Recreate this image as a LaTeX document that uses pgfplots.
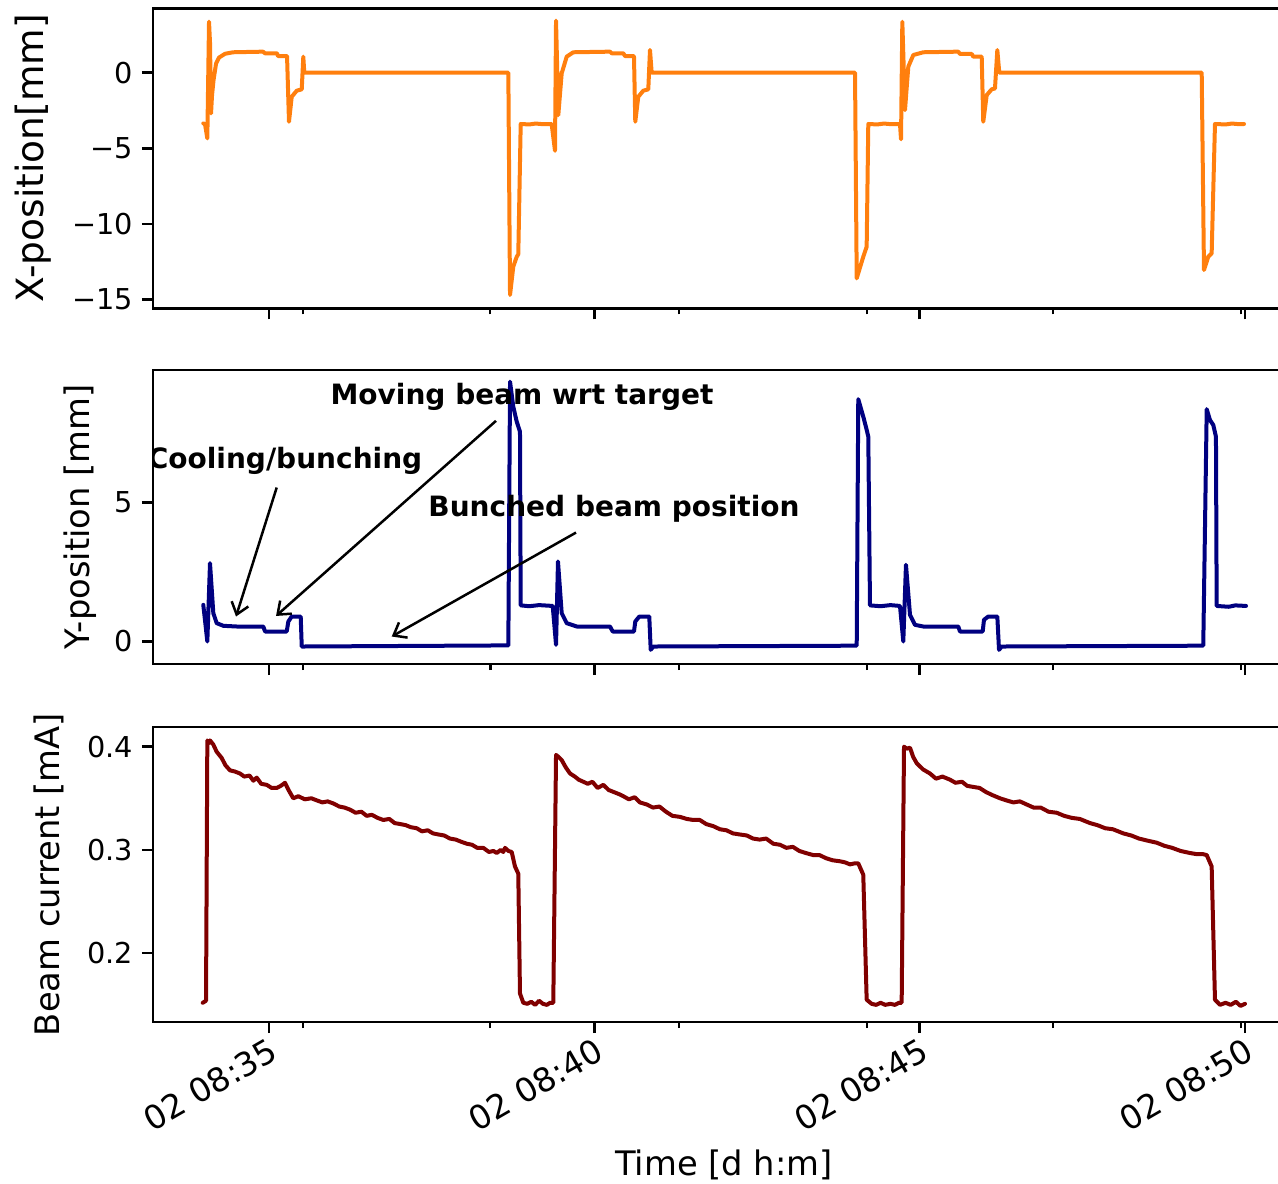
\documentclass[border=0pt]{standalone}
\usepackage{fontspec}
\setmainfont{DejaVu Sans}
\usepackage{pgfplots}
\pgfplotsset{compat=1.18}
\usetikzlibrary{arrows.meta}
\definecolor{mplorange}{RGB}{255,127,14}
\definecolor{mplnavy}{RGB}{0,0,128}
\definecolor{mplmaroon}{RGB}{128,0,0}

\pgfplotsset{
  panel/.style={
    scale only axis, width=456.8pt,
    xmin=33.217, xmax=50.768,
    axis line style={line width=1pt},
    tick style={line width=1pt, black},
    tick align=outside, xtick pos=left, ytick pos=left,
    major tick length=4.4pt, minor tick length=2.4pt,
    xtick={35,40,45,50},
    minor xtick={35.52,38.40,41.30,44.19,47.05,49.94},
    tick label style={font=\fontsize{11.5}{13}\selectfont},
    every axis plot/.append style={line width=1.6pt, line join=round, line cap=round},
  }
}

\begin{document}
\begin{tikzpicture}
% x position
\begin{axis}[panel, at={(61.2pt,-3.32pt)}, anchor=north west, height=120pt,
    ymin=-15.57, ymax=4.256,
    ytick={-15,-10,-5,0}, yticklabels={−15,−10,−5,0},
    xticklabels={},
    ylabel={X-position[mm]},
    every axis y label/.style={at={(axis description cs:-0.1051,0.5)}, rotate=90, anchor=center, font=\fontsize{15}{17}\selectfont},
]
\addplot[mplorange] coordinates {
(33.990,-3.35) (34.016,-3.40) (34.052,-4.34) (34.078,3.37) (34.093,2.0) (34.109,-2.69)
(34.124,-1.5) (34.147,-0.5) (34.186,0.6) (34.232,1.0) (34.324,1.25) (34.447,1.35)
(34.908,1.39) (34.939,1.28) (35.123,1.28) (35.138,1.10) (35.277,1.10) (35.307,-3.24)
(35.349,-1.59) (35.426,-1.19) (35.503,-1.10) (35.527,1.06) (35.542,0) (38.678,0)
(38.704,-14.69) (38.754,-12.82) (38.807,-12.16) (38.831,-12.0) (38.868,-3.39)
(39.00,-3.42) (39.10,-3.36) (39.20,-3.40) (39.344,-3.39)
(39.395,-5.16) (39.411,3.44) (39.446,-2.80) (39.498,-0.04) (39.575,1.06) (39.676,1.35)
(40.240,1.39) (40.267,1.28) (40.445,1.28) (40.471,1.10) (40.609,1.10) (40.629,-3.24)
(40.675,-1.59) (40.752,-1.19) (40.829,-1.10) (40.855,1.5) (40.881,0) (44.006,0)
(44.032,-13.59) (44.133,-12.16) (44.185,-11.5) (44.210,-3.39)
(44.35,-3.42) (44.45,-3.36) (44.55,-3.40) (44.697,-3.39)
(44.713,-4.40) (44.733,3.37) (44.774,-2.47) (44.825,0.40) (44.902,1.17) (45.055,1.35)
(45.593,1.39) (45.619,1.24) (45.799,1.24) (45.824,1.06) (45.953,1.06) (45.977,-3.24)
(46.030,-1.48) (46.106,-1.10) (46.157,-1.04) (46.193,1.5) (46.223,0) (49.334,0)
(49.369,-13.04) (49.435,-12.16) (49.487,-11.94) (49.538,-3.39)
(49.70,-3.42) (49.80,-3.36) (49.90,-3.40) (49.984,-3.39)
};
\end{axis}

% y position
\begin{axis}[panel, at={(61.2pt,-148pt)}, anchor=north west, height=117.6pt,
    ymin=-0.81, ymax=9.77,
    ytick={0,5}, yticklabels={0,5},
    xticklabels={},
    ylabel={Y-position [mm]},
    every axis y label/.style={at={(axis description cs:-0.0639,0.5)}, rotate=90, anchor=center, font=\fontsize{13.5}{16}\selectfont},
]
\addplot[mplnavy] coordinates {
(33.990,1.32) (34.052,0.0) (34.093,2.82) (34.144,1.02) (34.196,0.66) (34.298,0.565)
(34.504,0.54) (34.912,0.54) (34.939,0.36) (35.272,0.36) (35.297,0.72) (35.349,0.90)
(35.487,0.90) (35.503,-0.18) (38.678,-0.14)
(38.704,9.35) (38.754,8.45) (38.807,7.91) (38.857,7.55) (38.868,1.30)
(39.00,1.27) (39.15,1.31) (39.360,1.28)
(39.411,-0.12) (39.441,2.88) (39.498,1.02) (39.575,0.66) (39.729,0.54) (40.240,0.54)
(40.282,0.36) (40.609,0.36) (40.629,0.72) (40.691,0.90) (40.844,0.90) (40.866,-0.30)
(40.906,-0.18) (44.032,-0.15)
(44.056,8.72) (44.133,8.09) (44.185,7.62) (44.210,7.37) (44.236,1.30)
(44.40,1.27) (44.55,1.31) (44.697,1.28)
(44.748,0.0) (44.789,2.76) (44.851,0.96) (44.928,0.60) (45.055,0.54) (45.593,0.54)
(45.619,0.36) (45.968,0.36) (45.988,0.78) (46.054,0.90) (46.193,0.90) (46.219,-0.30)
(46.260,-0.18) (49.358,-0.15)
(49.411,8.36) (49.461,7.97) (49.512,7.79) (49.553,7.37) (49.564,1.28)
(49.75,1.25) (49.85,1.30) (50.015,1.28)
};
\node[font=\fontsize{11.2}{13}\selectfont\bfseries] at (axis cs:35.246,6.50) {Cooling/bunching};
\node[font=\fontsize{11.2}{13}\selectfont\bfseries] at (axis cs:38.888,8.80) {Moving beam wrt target};
\node[font=\fontsize{11.2}{13}\selectfont\bfseries] at (axis cs:40.302,4.77) {Bunched beam position};
\draw[line width=1pt, -{Straight Barb[length=4.5pt,width=7pt]}] (axis cs:35.118,5.54) -- (axis cs:34.493,0.90);
\draw[line width=1pt, -{Straight Barb[length=4.5pt,width=7pt]}] (axis cs:38.488,7.94) -- (axis cs:35.108,0.92);
\draw[line width=1pt, -{Straight Barb[length=4.5pt,width=7pt]}] (axis cs:39.718,3.92) -- (axis cs:36.886,0.18);
\end{axis}

% beam current
\begin{axis}[panel, at={(61.2pt,-290.8pt)}, anchor=north west, height=118pt,
    ymin=0.1334, ymax=0.419,
    ytick={0.2,0.3,0.4}, yticklabels={0.2,0.3,0.4},
    xticklabels={02 08:35,02 08:40,02 08:45,02 08:50},
    xticklabel style={rotate=30, anchor=north east, inner sep=1pt, font=\fontsize{13.2}{15}\selectfont},
    ylabel={Beam current [mA]},
    every axis y label/.style={at={(axis description cs:-0.0911,0.5)}, rotate=90, anchor=center, font=\fontsize{13.5}{16}\selectfont},
    xlabel={Time [d h:m]},
    every axis x label/.style={at={(axis description cs:0.5,-0.485)}, anchor=center, font=\fontsize{13.5}{16}\selectfont},
]
\addplot[mplmaroon] coordinates {
(33.981,0.152) (34.032,0.154) (34.052,0.406) (34.070,0.403) (34.093,0.406) (34.144,0.402)
(34.196,0.395) (34.273,0.389) (34.330,0.382) (34.401,0.377) (34.470,0.376) (34.554,0.374)
(34.62,0.371) (34.70,0.372) (34.76,0.367) (34.811,0.370) (34.88,0.364) (34.965,0.363)
(35.04,0.360) (35.118,0.360) (35.18,0.362) (35.246,0.365) (35.30,0.358) (35.373,0.350)
(35.45,0.352) (35.55,0.349) (35.65,0.350) (35.733,0.348) (35.82,0.346) (35.90,0.347)
(35.988,0.345) (36.08,0.342) (36.16,0.341) (36.245,0.339) (36.33,0.336) (36.42,0.337)
(36.50,0.333) (36.58,0.334) (36.67,0.331) (36.757,0.329) (36.85,0.330) (36.93,0.326)
(37.02,0.325) (37.10,0.324) (37.18,0.322) (37.270,0.321) (37.35,0.318) (37.44,0.319)
(37.52,0.316) (37.60,0.315) (37.69,0.314) (37.782,0.311) (37.87,0.310) (37.95,0.308)
(38.04,0.306) (38.12,0.305) (38.20,0.302) (38.293,0.302) (38.38,0.298) (38.45,0.299)
(38.499,0.297) (38.56,0.300) (38.60,0.298) (38.627,0.302) (38.68,0.299) (38.730,0.298)
(38.780,0.284) (38.831,0.277) (38.857,0.161) (38.908,0.152) (38.97,0.151) (39.03,0.153)
(39.09,0.150) (39.15,0.154) (39.21,0.151) (39.27,0.150) (39.32,0.152) (39.369,0.152)
(39.411,0.392) (39.45,0.390) (39.498,0.387) (39.56,0.380) (39.626,0.374) (39.70,0.371)
(39.76,0.368) (39.830,0.366) (39.90,0.364) (39.97,0.366) (40.05,0.360) (40.138,0.363)
(40.22,0.358) (40.30,0.356) (40.38,0.354) (40.445,0.352) (40.53,0.349) (40.62,0.351)
(40.70,0.346) (40.805,0.344) (40.90,0.341) (41.00,0.342) (41.10,0.337) (41.20,0.333)
(41.316,0.332) (41.42,0.330) (41.52,0.329) (41.62,0.329) (41.72,0.325) (41.828,0.323)
(41.93,0.320) (42.03,0.319) (42.13,0.316) (42.23,0.315) (42.341,0.314) (42.44,0.311)
(42.54,0.310) (42.64,0.311) (42.75,0.306) (42.853,0.305) (42.95,0.302) (43.05,0.303)
(43.15,0.299) (43.25,0.297) (43.365,0.295) (43.46,0.295) (43.56,0.292) (43.66,0.290)
(43.775,0.289) (43.85,0.288) (43.93,0.286) (44.00,0.287) (44.056,0.287) (44.133,0.276)
(44.185,0.155) (44.262,0.151) (44.33,0.150) (44.40,0.152) (44.47,0.150) (44.55,0.151)
(44.62,0.150) (44.68,0.152) (44.723,0.152)
(44.759,0.400) (44.80,0.398) (44.851,0.399) (44.90,0.390) (44.954,0.384) (45.05,0.378)
(45.158,0.374) (45.25,0.369) (45.35,0.371) (45.466,0.368) (45.55,0.365) (45.65,0.366)
(45.73,0.362) (45.824,0.361) (45.92,0.360) (46.02,0.356) (46.12,0.353) (46.234,0.350)
(46.33,0.348) (46.44,0.346) (46.54,0.347) (46.644,0.344) (46.75,0.341) (46.86,0.341)
(46.98,0.337) (47.105,0.336) (47.22,0.333) (47.34,0.331) (47.46,0.330) (47.617,0.326)
(47.73,0.324) (47.85,0.321) (47.97,0.320) (48.129,0.316) (48.25,0.314) (48.37,0.311)
(48.50,0.309) (48.642,0.307) (48.76,0.304) (48.88,0.302) (49.01,0.299) (49.154,0.297)
(49.25,0.296) (49.35,0.296) (49.411,0.295) (49.487,0.284) (49.538,0.155) (49.615,0.150)
(49.70,0.152) (49.78,0.150) (49.86,0.153) (49.93,0.149) (49.999,0.151)
};
\end{axis}
\pgfresetboundingbox
\useasboundingbox (0,0) rectangle (511.2pt,-473.6pt);
\end{tikzpicture}
\end{document}
